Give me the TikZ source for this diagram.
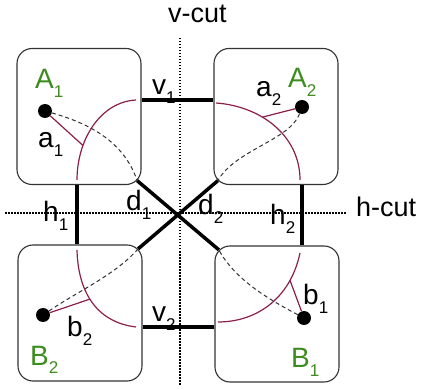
\documentclass[tikz,border=0pt]{standalone}
\usepackage{fontspec}
\setmainfont{Liberation Sans}
\usepackage{tikz}
\usetikzlibrary{calc}
\definecolor{partgreen}{RGB}{60,140,30}
\definecolor{routered}{RGB}{140,30,75}
\tikzstyle{part} = [rectangle,
rounded corners=15pt,
minimum width=124pt,
minimum height=136pt,
draw=black!80, line width=1.1pt]
\tikzstyle{vertex} = [circle, fill=black, inner sep=0pt, minimum size=14pt]
\tikzstyle{edge} = [line width=3.5pt]
\tikzstyle{cut} = [line width=1.5pt, dash pattern=on 1.5pt off 1.5pt]
\tikzstyle{route} = [draw=routered, line width=1.2pt]
\tikzstyle{flow} = [draw=black!80, line width=1pt, dash pattern=on 4pt off 3pt]
\tikzstyle{lab} = [inner sep=0pt, anchor=base west, font=\fontsize{28}{30}\selectfont]
\tikzstyle{glab} = [lab, text=partgreen]
\tikzstyle{cutlab} = [inner sep=0pt, anchor=base west, font=\fontsize{27}{30}\selectfont]
\newcommand{\lsub}[2]{#1\raisebox{-9pt}{\fontsize{17}{17}\selectfont #2}}

\begin{document}
\begin{tikzpicture}[x=1pt, y=-1pt]
\useasboundingbox (0,0) rectangle (426,390);
% the four parts
\node (boxA1) [part] at (79,116.5) {};
\node (boxA2) [part] at (276,116.5) {};
\node (boxB2) [part] at (80,313) {};
\node (boxB1) [part] at (277,314) {};
% corners where the crossing edges start
\coordinate (cA1) at ([shift={(-4.4pt,4.4pt)}]boxA1.south east);
\coordinate (cA2) at ([shift={(4.4pt,4.4pt)}]boxA2.south west);
\coordinate (cB2) at ([shift={(-4.4pt,-4.4pt)}]boxB2.north east);
\coordinate (cB1) at ([shift={(4.4pt,-4.4pt)}]boxB1.north west);
% cuts
\coordinate (vtop) at (180,38);
\coordinate (vbot) at (180,385);
\coordinate (hleft) at (5,213);
\coordinate (hright) at (347,213);
\draw [cut] (vtop) -- (vbot);
\draw [cut] (hleft) -- (hright);
\node (vcut) [cutlab] at (168,23) {v-cut};
\node (hcut) [cutlab] at (356,217) {h-cut};
% edges
\draw [edge] ([yshift=16.5pt]boxA1.east) -- ([yshift=16.5pt]boxA1.east -| boxA2.west);
\draw [edge] ([yshift=-14pt]boxB2.east) -- ([yshift=-14pt]boxB2.east -| boxB1.west);
\draw [edge] ([xshift=-2pt]boxA1.south) -- ([xshift=-2pt]boxA1.south |- boxB2.north);
\draw [edge] ([xshift=26pt]boxA2.south) -- ([xshift=26pt]boxA2.south |- boxB1.north);
\draw [edge] (cA1) -- (cB1);
\draw [edge] (cA2) -- (cB2);
% terminals
\node (dotA1) [vertex] at (45,111) {};
\node (dotA2) [vertex] at (302,107) {};
\node (dotB2) [vertex] at (43,315) {};
\node (dotB1) [vertex] at (304,318) {};
% arcs
\draw [route] (136,100) .. controls (100,102) and (77,140) .. (77,180) coordinate[pos=0.7] (jA1);
\draw [route] (216,103) .. controls (260,106) and (300,135) .. (300,180) coordinate[pos=0.38] (jA2);
\draw [route] (77,250) .. controls (78,290) and (95,322) .. (136,327) coordinate[pos=0.47] (jB2);
\draw [route] (300,253) .. controls (290,300) and (255,322) .. (218,322) coordinate[pos=0.22] (jB1);
\draw [route] (dotA1) -- (jA1);
\draw [route] (dotA2) -- (jA2);
\draw [route] (dotB2) -- (jB2);
\draw [route] (dotB1) -- (jB1);
% dashed routes to the crossing
\draw [flow] (dotA1) .. controls (95,125) and (125,145) .. (cA1);
\draw [flow] (dotA2) .. controls (290,140) and (235,150) .. (cA2);
\draw [flow] (dotB2) .. controls (80,290) and (115,275) .. (cB2);
\draw [flow] (dotB1) .. controls (270,300) and (235,280) .. (cB1);
% labels
\node (labA1) [glab] at (35,89) {\lsub{A}{1}};
\node (labA2) [glab] at (288,88) {\lsub{A}{2}};
\node (labB2) [glab] at (30,365) {\lsub{B}{2}};
\node (labB1) [glab] at (291,367) {\lsub{B}{1}};
\node (laba1) [lab] at (38,148) {\lsub{a}{1}};
\node (laba2) [lab] at (256,97) {\lsub{a}{2}};
\node (labb2) [lab] at (67,337) {\lsub{b}{2}};
\node (labb1) [lab] at (303,305) {\lsub{b}{1}};
\node (labv1) [lab] at (152,95) {\lsub{v}{1}};
\node (labv2) [lab] at (152,322) {\lsub{v}{2}};
\node (labh1) [lab] at (43,222) {\lsub{h}{1}};
\node (labh2) [lab] at (270,225) {\lsub{h}{2}};
\node (labd1) [lab] at (126,211) {\lsub{d}{1}};
\node (labd2) [lab] at (198,215) {\lsub{d}{2}};
\end{tikzpicture}
\end{document}
